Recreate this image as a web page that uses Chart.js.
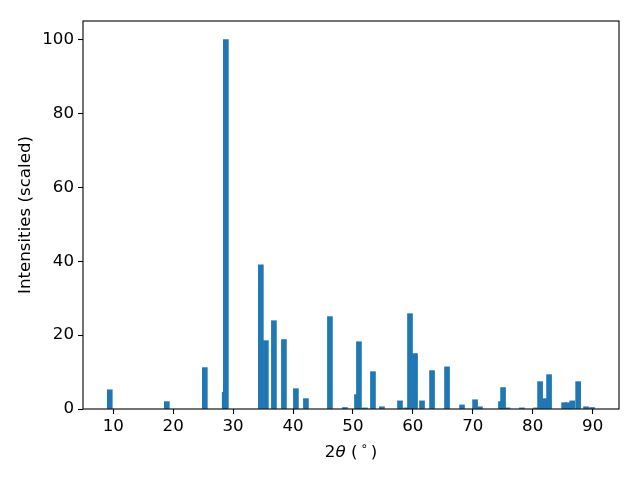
<!DOCTYPE html>
<html>
<head>
<meta charset="utf-8">
<script src="https://cdn.jsdelivr.net/npm/chart.js@4/dist/chart.umd.min.js"></script>
<style>
  html, body { margin: 0; padding: 0; background: #fff; }
</style>
</head>
<body>
<canvas id="xrd" width="640" height="480"></canvas>
<script>
// peak positions (2theta, degrees) and scaled intensities
const twoTheta = [
  9.42, 18.94, 25.28, 28.6, 28.79, 34.63, 35.47, 36.81, 38.48, 40.48,
  42.15, 46.16, 48.66, 50.67, 51.0, 52.0, 53.34, 54.84, 57.85, 58.9,
  59.52, 60.36, 61.53, 63.2, 65.7, 68.2, 70.38, 71.2, 74.7, 75.05,
  75.8, 78.2, 80.56, 81.23, 82.0, 82.73, 85.24, 85.8, 86.6, 87.58,
  88.9, 89.9
];
const intensities = [
  5.2, 2.0, 11.2, 4.5, 100, 39.0, 18.5, 23.9, 18.8, 5.5,
  2.8, 25.0, 0.4, 3.9, 18.2, 0.3, 10.1, 0.6, 2.2, 0.3,
  25.8, 15.0, 2.2, 10.4, 11.4, 1.1, 2.5, 0.6, 2.0, 5.8,
  0.3, 0.3, 0.3, 7.4, 2.8, 9.3, 1.7, 1.7, 2.2, 7.4,
  0.6, 0.4
];
const xTicks = [10, 20, 30, 40, 50, 60, 70, 80, 90];
const yTicks = [0, 20, 40, 60, 80, 100];
const yLabel = 'Intensities (scaled)';

const FONT = 'DejaVu Sans';
const FS = 16.67;

// box around the axes + matplotlib-style axis labels
const frameAndLabels = {
  id: 'frameAndLabels',
  afterDraw(chart) {
    const { ctx, chartArea: a } = chart;
    ctx.save();
    ctx.strokeStyle = '#000';
    ctx.lineWidth = 1.1;
    ctx.strokeRect(a.left, a.top, a.right - a.left, a.bottom - a.top);

    ctx.fillStyle = '#000';
    ctx.textBaseline = 'alphabetic';
    // x label: 2θ ( ° )
    const parts = [
      { t: '2', f: `${FS}px "${FONT}"`, dy: 0, gap: 0 },
      { t: 'θ', f: `italic ${FS}px "${FONT}"`, dy: 0, gap: 0 },
      { t: ' (', f: `${FS}px "${FONT}"`, dy: 0, gap: 3 },
      { t: '∘', f: `${FS * 0.7}px "${FONT}"`, dy: -7, gap: 3 },
      { t: ')', f: `${FS}px "${FONT}"`, dy: 0, gap: 0 }
    ];
    let total = 0;
    parts.forEach(p => { ctx.font = p.f; p.w = ctx.measureText(p.t).width; total += p.w + p.gap; });
    let x = (a.left + a.right) / 2 - total / 2;
    const base = 457;
    parts.forEach(p => {
      ctx.font = p.f;
      ctx.textAlign = 'left';
      ctx.fillText(p.t, x, base + p.dy);
      x += p.w + p.gap;
    });

    // y label
    ctx.font = `${FS}px "${FONT}"`;
    ctx.translate(26, (a.top + a.bottom) / 2);
    ctx.rotate(-Math.PI / 2);
    ctx.textAlign = 'center';
    ctx.textBaseline = 'middle';
    ctx.fillText(yLabel, 0, 0);
    ctx.restore();
  }
};

new Chart(document.getElementById('xrd'), {
  type: 'bar',
  data: {
    datasets: [{
      data: twoTheta.map((t, i) => ({ x: t, y: intensities[i] })),
      backgroundColor: '#1f77b4',
      borderWidth: 0,
      barThickness: 5,
      grouped: false
    }]
  },
  options: {
    responsive: false,
    animation: false,
    devicePixelRatio: 1,
    layout: { padding: { top: 21, right: 21, left: 0, bottom: 0 } },
    plugins: { legend: { display: false }, tooltip: { enabled: false } },
    scales: {
      x: {
        type: 'linear',
        min: 4.95,
        max: 94.4,
        offset: false,
        afterBuildTicks: s => { s.ticks = xTicks.map(v => ({ value: v })); },
        afterFit: s => { s.height = 480 - 409; },
        grid: { offset: false, drawOnChartArea: false, drawTicks: true, tickLength: 5, color: '#000', tickWidth: 1.1 },
        border: { display: false },
        ticks: { color: '#000', font: { family: FONT, size: FS }, padding: 3, maxRotation: 0 }
      },
      y: {
        min: 0,
        max: 105,
        afterBuildTicks: s => { s.ticks = yTicks.map(v => ({ value: v })); },
        afterFit: s => { s.width = 83; },
        grid: { offset: false, drawOnChartArea: false, drawTicks: true, tickLength: 5, color: '#000', tickWidth: 1.1 },
        border: { display: false },
        ticks: { color: '#000', font: { family: FONT, size: FS }, padding: 4 }
      }
    }
  },
  plugins: [frameAndLabels]
});
</script>
</body>
</html>
